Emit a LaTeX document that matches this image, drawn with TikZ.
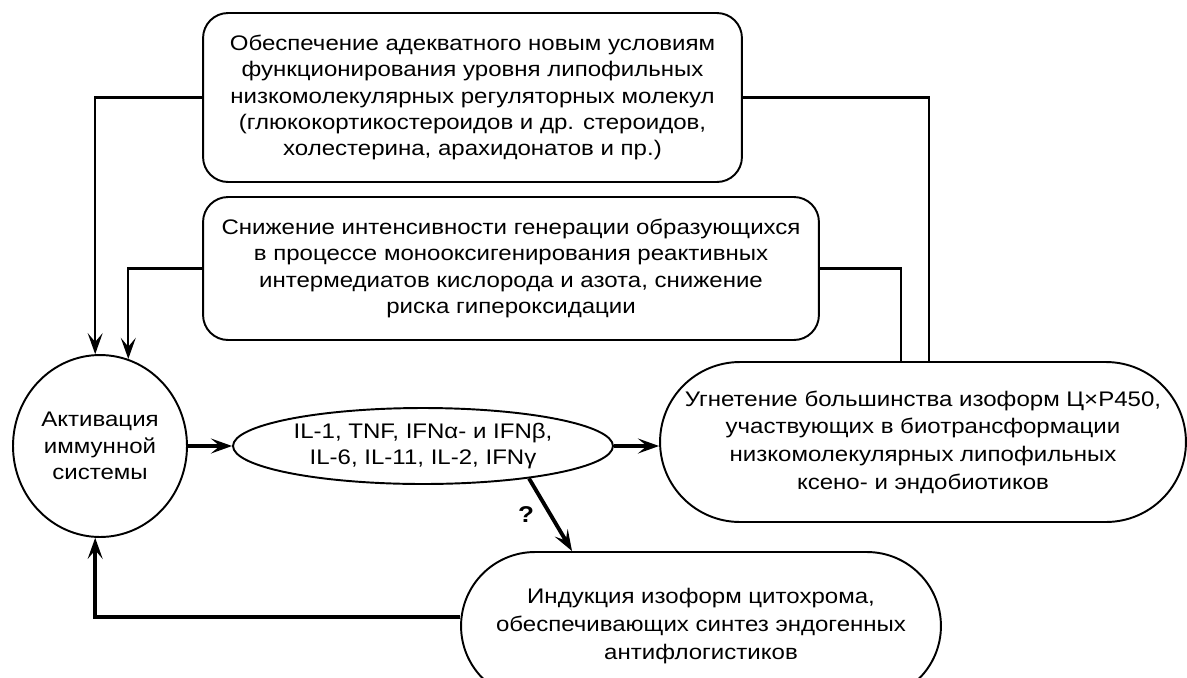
\documentclass[tikz,border=0pt]{standalone}
\usepackage{fontspec}
\setmainfont{Liberation Sans}[FakeStretch=1.14]
\usetikzlibrary{shapes.geometric,arrows.meta}

\tikzset{
  every node/.style={font=\fontsize{12pt}{15pt}\selectfont},
  box/.style={draw, line width=1.1pt, rounded corners=0.5cm, align=center, inner sep=0pt},
  pill/.style={draw, line width=1.1pt, align=center, inner sep=0pt},
  oval/.style={draw, ellipse, line width=1.1pt, align=center, inner sep=0pt},
  link/.style={line width=1.2pt},
  arr/.style={link, -{Stealth[length=12pt,width=8.5pt,inset=5pt]}},
  thickarr/.style={line width=2.2pt, -{Stealth[length=12pt,width=8.5pt,inset=5pt]}}
}

\begin{document}
\begin{tikzpicture}[x=0.02cm,y=-0.02cm]
  \useasboundingbox (0,0) rectangle (1187,677);

  % Boxes
  \node[box, minimum width=10.78cm, minimum height=3.38cm] (lipo) at (472.5,97.5)
    {Обеспечение адекватного новым условиям\\функционирования уровня липофильных\\низкомолекулярных регуляторных молекул\\(глюкокортикостероидов и др. стероидов,\\холестерина, арахидонатов и пр.)};
  \node[box, minimum width=12.32cm, minimum height=2.86cm] (rox) at (511,268.5)
    {Снижение интенсивности генерации образующихся\\в процессе монооксигенирования реактивных\\интермедиатов кислорода и азота, снижение\\риска гипероксидации};
  \node[oval, minimum width=3.48cm, minimum height=3.64cm] (immun) at (100,446)
    {Активация\\иммунной\\системы};
  \node[oval, minimum width=7.6cm, minimum height=1.52cm] (cyto) at (423,446)
    {IL-1, TNF, IFNα- и IFNβ,\\IL-6, IL-11, IL-2, IFNγ};
  \node[pill, rounded corners=1.6cm, minimum width=10.52cm, minimum height=3.2cm,
        font=\fontsize{12pt}{15.8pt}\selectfont] (inhib) at (923,442)
    {Угнетение большинства изоформ Ц×Р450,\\участвующих в биотрансформации\\низкомолекулярных липофильных\\ксено- и эндобиотиков};
  \node[pill, rounded corners=1.48cm, minimum width=9.6cm, minimum height=2.96cm,
        font=\fontsize{12pt}{16pt}\selectfont] (induct) at (701,626)
    {Индукция изоформ цитохрома,\\обеспечивающих синтез эндогенных\\антифлогистиков};

  % Feedback to immune activation
  \draw[arr] (lipo.west) -| (immun.93);
  \draw[arr] (rox.west) -| (immun.72);
  \draw[link] (lipo.east) -| ([xshift=0.12cm]inhib.north);
  \draw[link] (rox.east) -| ([xshift=-0.44cm]inhib.north);

  % Main chain
  \draw[thickarr] (immun.east) -- (cyto.west);
  \draw[thickarr] (cyto.east) -- (cyto.east -| inhib.west);
  \draw[thickarr] (cyto.-17) -- node[midway, left=5pt, font=\fontsize{13pt}{15pt}\selectfont\bfseries] (quest) {?} ([xshift=-2.58cm]induct.north);
  \draw[thickarr] ([yshift=0.18cm]induct.west) -| (immun.-93);
\end{tikzpicture}
\end{document}
